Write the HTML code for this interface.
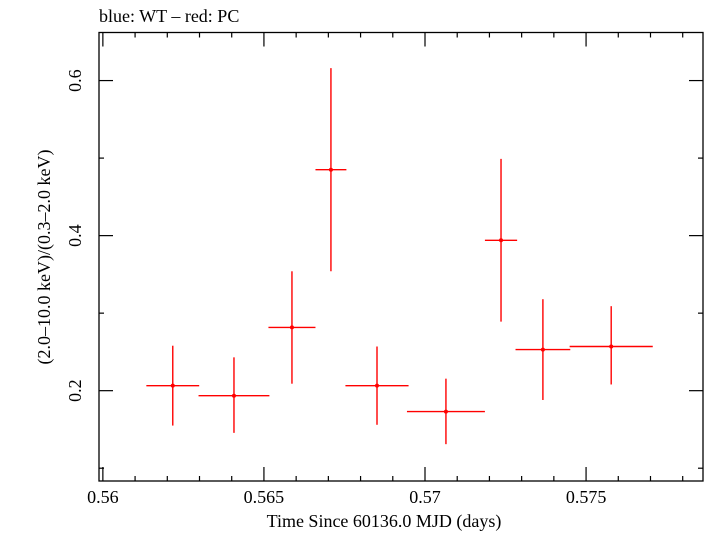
<!DOCTYPE html>
<html><head><meta charset="utf-8"><style>
body{margin:0;background:#fff}
svg text{font-family:"Liberation Serif",serif;fill:#000}
</style></head><body>
<svg id="chart" width="705" height="532" xmlns="http://www.w3.org/2000/svg">
<text x="99" y="22" font-size="18">blue: WT – red: PC</text>
<rect x="99" y="32.5" width="604" height="448.5" fill="none" stroke="#000" stroke-width="1.3"/>
<g id="axes"></g>
<g id="marks"></g>
<text x="384" y="527" font-size="18" text-anchor="middle">Time Since 60136.0 MJD (days)</text>
<text transform="translate(50,257) rotate(-90)" font-size="18" text-anchor="middle">(2.0–10.0 keV)/(0.3–2.0 keV)</text>
</svg>
<script>
const times=[0.56217,0.56407,0.56587,0.56708,0.56851,0.57065,0.57236,0.57366,0.57578];
const halfWidths=[0.00082,0.0011,0.00073,0.00048,0.00098,0.00121,0.0005,0.00085,0.00129];
const ratios=[0.2065,0.1935,0.2816,0.485,0.2065,0.173,0.394,0.253,0.257];
const errHigh=[0.258,0.243,0.354,0.616,0.257,0.2155,0.499,0.318,0.309];
const errLow=[0.155,0.1456,0.209,0.354,0.156,0.131,0.289,0.188,0.208];
const xTickLabels=["0.56","0.565","0.57","0.575"];
const yTickLabels=["0.2","0.4","0.6"];
const NS="http://www.w3.org/2000/svg";
const X0=99,X1=703,Y0=481,Y1=32.5;
const xmin=0.55988,xmax=0.57863,ymin=0.0835,ymax=0.662;
function xs(v){return X0+(v-xmin)/(xmax-xmin)*(X1-X0);}
function ys(v){return Y0-(v-ymin)/(ymax-ymin)*(Y0-Y1);}
function mk(tag,attrs,parent){const e=document.createElementNS(NS,tag);for(const k in attrs)e.setAttribute(k,attrs[k]);parent.appendChild(e);return e;}
const ax=document.getElementById('axes'),mg=document.getElementById('marks');
for(let i=0;i<=18;i++){const v=0.56+i*0.001;if(v>xmax)break;const x=xs(v);const major=i%5===0;const L=major?14:5;
 const t1=mk('line',{x1:x,x2:x,y1:Y0,y2:Y0-L,stroke:'#000','stroke-width':1.2},ax);
 
 
 const t2=mk('line',{x1:x,x2:x,y1:Y1,y2:Y1+L,stroke:'#000','stroke-width':1.2},ax);
 
 }
xTickLabels.forEach(s=>{const t=mk('text',{x:xs(parseFloat(s)),y:503,'font-size':18,'text-anchor':'middle'},ax);t.textContent=s;
 
 });
for(let i=1;i<=6;i++){const v=i*0.1;const y=ys(v);const major=i%2===0;const L=major?14:5;
 const t1=mk('line',{x1:X0,x2:X0+L,y1:y,y2:y,stroke:'#000','stroke-width':1.2},ax);
 
 
 const t2=mk('line',{x1:X1,x2:X1-L,y1:y,y2:y,stroke:'#000','stroke-width':1.2},ax);
 
 }
yTickLabels.forEach(s=>{const y=ys(parseFloat(s));const t=mk('text',{transform:`translate(81,${y}) rotate(-90)`,'font-size':18,'text-anchor':'middle'},ax);t.textContent=s;
 
 });
times.forEach((t,i)=>{const g=mk('g',{},mg);
 
 
 mk('line',{x1:xs(t-halfWidths[i]),x2:xs(t+halfWidths[i]),y1:ys(ratios[i]),y2:ys(ratios[i]),stroke:'#f00','stroke-width':1.4},g);
 mk('line',{x1:xs(t),x2:xs(t),y1:ys(errHigh[i]),y2:ys(errLow[i]),stroke:'#f00','stroke-width':1.4},g);
 mk('circle',{cx:xs(t),cy:ys(ratios[i]),r:2,fill:'#f00'},g);});
</script>
</body></html>
